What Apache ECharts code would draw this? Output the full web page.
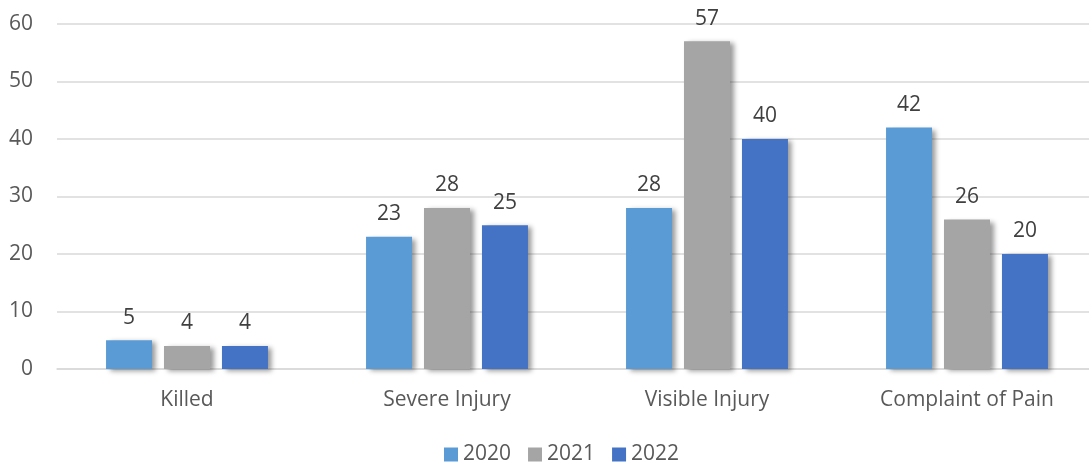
<!DOCTYPE html>
<html>
<head>
<meta charset="utf-8">
<script src="https://cdn.jsdelivr.net/npm/echarts@6/dist/echarts.min.js"></script>
<style>
  html, body { margin: 0; padding: 0; background: #fff; overflow: hidden; }
  #chart { width: 1100px; height: 464px; }
</style>
</head>
<body>
<div id="chart"></div>
<script>
const categories = ["Killed", "Severe Injury", "Visible Injury", "Complaint of Pain"];
const years = ["2020", "2021", "2022"];
const values2020 = [5, 23, 28, 42];
const values2021 = [4, 28, 57, 26];
const values2022 = [4, 25, 40, 20];
const colors = ["#5B9BD5", "#A5A5A5", "#4472C4"];

const font = "'Open Sans', 'Noto Sans', sans-serif";
const chart = echarts.init(document.getElementById("chart"));

function makeSeries(name, data, color) {
  return {
    name,
    type: "bar",
    data,
    barWidth: 46,
    barGap: "26%",
    itemStyle: {
      color,
      shadowColor: "rgba(0,0,0,0.4)",
      shadowBlur: 5,
      shadowOffsetX: 4,
      shadowOffsetY: 2,
    },
    label: {
      show: true,
      position: "top",
      distance: 12,
      color: "#404040",
      fontFamily: font,
      fontSize: 21,
    },
  };
}

chart.setOption({
  animation: false,
  grid: { left: 57, top: 24, width: 1040, height: 345 },
  legend: {
    bottom: -6,
    left: 439,
    itemWidth: 14,
    itemHeight: 14,
    itemGap: 17,
    icon: "rect",
    textStyle: { color: "#595959", fontFamily: font, fontSize: 21 },
    data: years,
  },
  xAxis: {
    type: "category",
    data: categories,
    axisLine: { lineStyle: { color: "#D9D9D9", width: 1.5 } },
    axisTick: { show: false },
    axisLabel: { color: "#595959", fontFamily: font, fontSize: 21, margin: 21 },
  },
  yAxis: {
    type: "value",
    min: 0,
    max: 60,
    interval: 10,
    axisLine: { show: false },
    axisTick: { show: false },
    splitLine: { lineStyle: { color: "#D9D9D9", width: 1.5 } },
    axisLabel: { color: "#595959", fontFamily: font, fontSize: 21, margin: 24 },
  },
  series: [
    makeSeries(years[0], values2020, colors[0]),
    makeSeries(years[1], values2021, colors[1]),
    makeSeries(years[2], values2022, colors[2]),
  ],
});
</script>
</body>
</html>
